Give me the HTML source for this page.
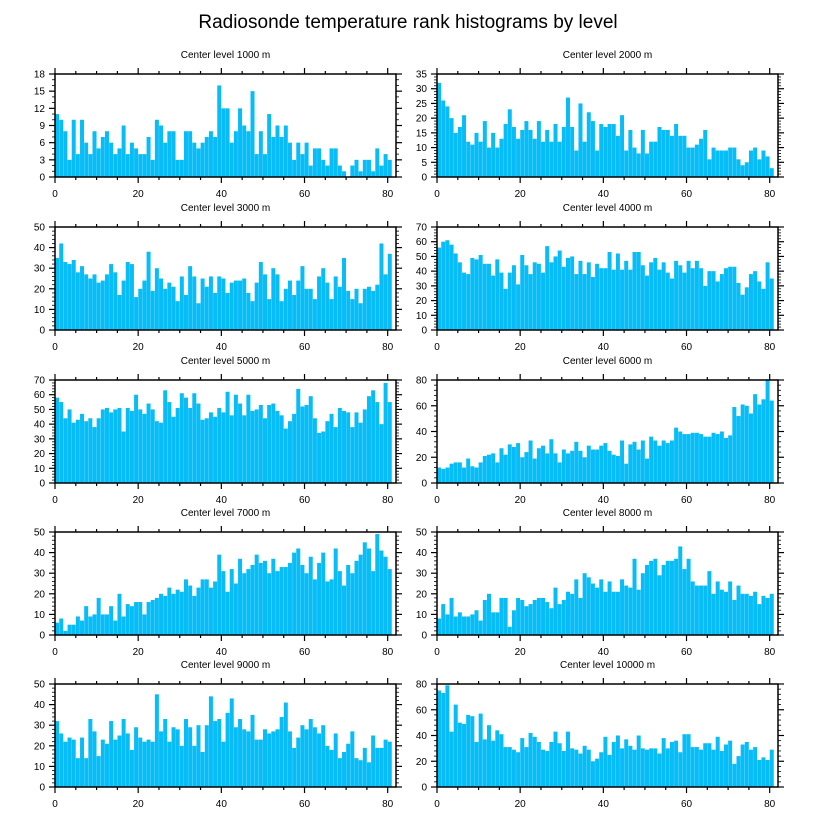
<!DOCTYPE html>
<html><head><meta charset="utf-8"><style>
html,body{margin:0;padding:0;background:#fff;}
svg{display:block;font-family:"Liberation Sans",sans-serif;}
</style></head><body>
<svg id="chart" width="816" height="824" viewBox="0 0 816 824" xmlns="http://www.w3.org/2000/svg">
<rect width="816" height="824" fill="#fff"/>
<text x="408" y="28" text-anchor="middle" font-size="19">Radiosonde temperature rank histograms by level</text>
</svg>
<script>
const levels = [1000,2000,3000,4000,5000,6000,7000,8000,9000,10000];
const yMaxes = [18,35,50,70,70,80,50,50,50,80];
const ySteps = [3,5,10,10,10,20,10,10,10,20];
const xTickLabels = [0,20,40,60,80];
const c1000 = [11,10,8,3,10,4,10,6,4,8,5,7,8,6,4,5,9,4,6,5,4,4,7,3,10,9,6,8,8,3,3,8,8,6,5,6,7,8,7,16,12,12,6,8,12,9,8,15,4,8,4,11,7,9,7,9,6,3,6,4,6,2,5,5,3,2,5,5,2,1,0,2,3,1,3,3,1,5,2,4,3];
const c2000 = [32,26,24,20,15,17,21,12,11,15,12,19,10,15,10,13,18,23,17,13,16,19,16,13,19,12,16,12,18,12,17,27,17,9,25,12,22,19,9,18,17,18,18,14,21,9,16,10,8,16,8,12,12,17,16,16,14,18,14,14,10,10,11,13,16,6,10,9,9,9,10,10,6,4,5,9,10,6,9,7,3];
const c3000 = [35,42,33,32,34,28,31,27,25,27,23,24,27,32,28,17,24,33,32,16,20,24,38,19,30,25,20,23,21,14,26,17,31,26,13,25,21,26,18,26,25,18,23,24,24,25,18,14,23,33,27,15,30,27,14,20,24,17,24,31,20,20,15,26,30,23,15,26,21,35,19,15,20,13,20,21,19,22,42,27,37];
const c4000 = [56,60,61,58,52,46,39,38,49,48,51,45,45,37,48,39,28,39,44,31,51,44,38,46,45,39,57,46,50,54,43,49,50,38,47,38,46,36,45,42,42,53,41,52,41,47,41,53,53,44,37,46,49,41,46,39,35,47,44,39,47,42,47,42,30,40,40,33,38,42,43,43,32,24,29,38,40,33,28,46,35];
const c5000 = [58,55,44,50,41,43,47,42,44,38,44,50,51,48,50,51,35,51,49,60,50,47,54,50,42,41,63,55,45,51,61,58,51,61,54,43,44,48,45,51,48,62,46,60,54,46,60,49,50,53,44,53,54,49,46,37,42,47,64,52,53,59,44,34,35,42,47,38,51,49,48,38,48,41,50,59,63,55,40,68,55];
const c6000 = [12,11,12,15,16,16,12,19,13,12,16,21,22,23,16,27,22,30,28,31,20,24,33,19,27,29,23,34,23,16,26,23,25,32,25,20,29,26,26,29,31,25,22,21,33,15,30,32,26,33,19,36,33,29,33,31,33,43,40,38,38,39,39,38,36,36,39,38,40,35,37,59,52,61,60,54,69,61,65,80,64];
const c7000 = [6,8,2,5,5,9,7,14,9,10,18,10,10,14,7,20,9,15,14,16,16,10,16,17,18,20,19,23,20,22,21,27,24,19,23,27,27,23,26,39,31,21,32,25,37,30,32,34,39,35,36,30,37,31,33,33,35,40,42,34,30,38,27,35,40,26,27,42,31,24,34,30,36,39,45,42,31,49,41,38,32];
const c8000 = [8,15,10,18,9,11,9,9,10,12,7,17,20,11,11,18,18,4,12,18,17,14,15,17,18,18,16,13,23,15,17,21,20,27,18,30,28,25,23,27,21,26,21,21,27,24,23,37,22,30,34,36,37,29,34,36,36,37,43,32,37,26,24,24,24,31,20,26,22,21,26,17,24,20,20,19,21,15,19,18,20];
const c9000 = [32,26,22,24,23,14,24,14,33,27,15,23,21,32,23,25,33,26,18,29,24,22,23,22,45,27,33,22,29,28,20,33,29,20,30,17,30,44,32,33,22,36,43,29,33,28,27,35,23,23,28,26,27,28,34,41,27,19,24,30,28,33,29,26,30,20,18,26,14,17,21,27,14,13,19,12,25,19,19,23,22];
const c10000 = [75,73,79,43,64,50,49,56,55,35,57,37,48,36,44,41,31,31,29,27,38,31,42,39,35,29,28,35,43,34,28,43,30,29,26,32,29,20,22,27,39,25,35,40,30,37,32,29,40,30,29,30,30,26,38,30,35,36,27,41,41,31,31,29,34,34,29,39,28,33,36,18,24,33,35,29,31,21,23,21,29];
const counts = [c1000,c2000,c3000,c4000,c5000,c6000,c7000,c8000,c9000,c10000];

const NS = "http://www.w3.org/2000/svg";
const svg = document.getElementById('chart');
const rowTops = [74,227,380,532,684];
const colLefts = [55,437];
const plotW = 341, plotH = 103, xMax = 82;
function mk(tag, attrs, parent){
  const e = document.createElementNS(NS, tag);
  for (const k in attrs) e.setAttribute(k, attrs[k]);
  parent.appendChild(e); return e;
}
for (let p = 0; p < 10; p++) {
  const L = colLefts[p % 2], T = rowTops[Math.floor(p / 2)], B = T + plotH, R = L + plotW;
  const xs = v => L + v / xMax * plotW;
  const ys = v => B - v / yMaxes[p] * plotH;
  const g = mk('g', {}, svg);
  
  
  const t = mk('text', {x: (L + R) / 2, y: T - 16, 'text-anchor': 'middle', 'font-size': 10}, g);
  
  
  t.textContent = 'Center level ' + levels[p] + ' m';
  const data = counts[p];
  for (let i = 0; i < data.length; i++) {
    const y0 = ys(data[i]);
    const r = mk('rect', {x: xs(i + 0.02), y: y0, width: xs(i + 0.98) - xs(i + 0.02), height: B - y0, fill: '#06bdf7'}, g);
    
    
  }
  const ax = mk('g', {stroke: '#000', 'stroke-width': 1.2}, g);
  
  
  mk('rect', {x: L, y: T, width: plotW, height: plotH, fill: 'none', 'stroke-width': 1.5}, ax);
  for (let v = 0; v <= 80; v += 5) {
    const len = v % 20 === 0 ? 6 : 3;
    mk('line', {x1: xs(v), x2: xs(v), y1: T, y2: T - len}, ax);
    mk('line', {x1: xs(v), x2: xs(v), y1: B, y2: B + len}, ax);
  }
  const minorN = p === 0 ? 3 : 5;
  const minorStep = ySteps[p] / minorN;
  for (let k = 0; k * minorStep <= yMaxes[p] + 1e-9; k++) {
    const v = k * minorStep, major = k % minorN === 0;
    const len = major ? 6 : 3;
    mk('line', {x1: L, x2: L - len, y1: ys(v), y2: ys(v), 'stroke-width': major ? 1.2 : 0.8}, ax);
    mk('line', {x1: R, x2: R + len, y1: ys(v), y2: ys(v), 'stroke-width': major ? 1.2 : 0.8}, ax);
  }
  for (let v = 0; v <= yMaxes[p] + 1e-9; v += ySteps[p]) {
    const lb = mk('text', {x: L - 10, y: ys(v) + 3.5, 'text-anchor': 'end', 'font-size': 10}, g);
    
    
    lb.textContent = v;
  }
  for (const v of xTickLabels) {
    const lb = mk('text', {x: xs(v), y: B + 20, 'text-anchor': 'middle', 'font-size': 10}, g);
    
    
    lb.textContent = v;
  }
}
</script>
</body></html>
